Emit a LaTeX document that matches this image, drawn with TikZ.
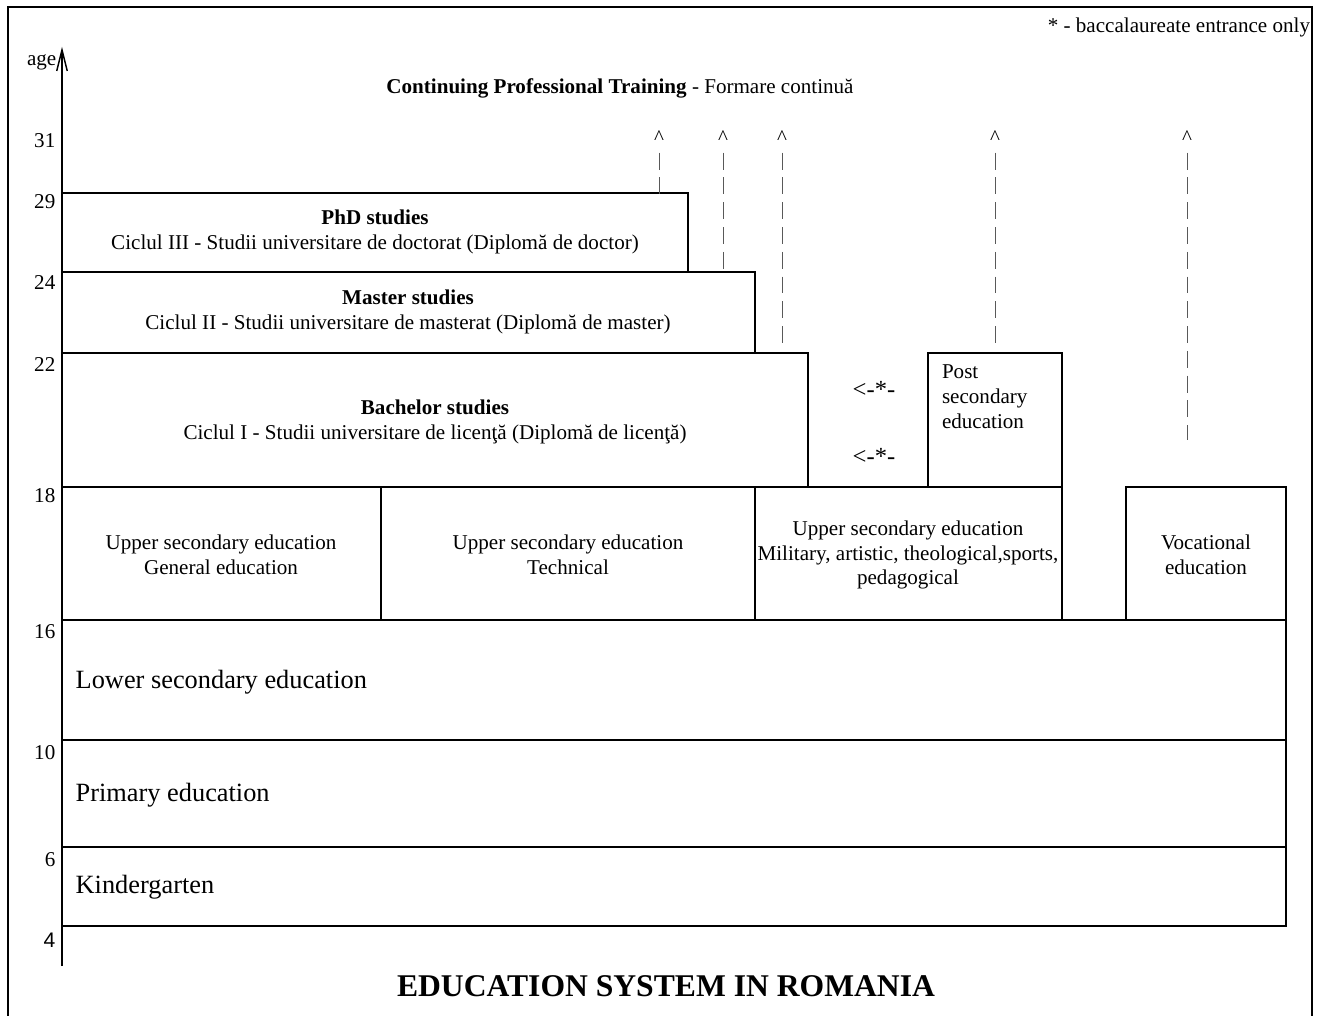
\documentclass[tikz,border=0pt]{standalone}
\usepackage{fontspec}
\setmainfont{Liberation Serif}
\newfontfamily\arialfont{Liberation Sans}
\usetikzlibrary{arrows.meta}
\tikzset{
  boxtext/.style = {font=\fontsize{12}{14.2}\selectfont, align=center,
                    inner sep=0pt, outer sep=0pt},
  bigtext/.style = {font=\fontsize{15}{18}\selectfont, anchor=west,
                    inner sep=0pt},
  agetext/.style = {font=\fontsize{12}{14}\selectfont, anchor=east,
                    inner sep=0pt},
  caret/.style   = {font=\fontsize{12}{14}\selectfont, anchor=base,
                    inner sep=0pt},
  dashline/.style = {black!65, line width=0.5pt,
                     dash pattern=on 9.6pt off 4.5pt, shorten <=4pt}
}

\begin{document}
\begin{tikzpicture}[x=0.02cm, y=-0.02cm, line width=0.8pt]
	\def \xa{62}   % age axis
	\def \xr{1286} % right edge of the school boxes
	\useasboundingbox (0,0) rectangle (1324,1016);

	% Frame
	\draw (8,1016) -- (8,7) -- (1312,7) -- (1312,1016);

	% Age axis
	\draw[-{Straight Barb[length=12pt,width=6pt]}] (\xa,966) -- (\xa,47);
	\node[agetext] (agename) at (57,62) {age};
	\foreach \age/\y in {31/141, 29/202, 24/283, 22/365, 18/496, 16/632, 10/753, 6/860}
		\node[agetext] (age\age) at (56,\y) {\age};
	\node[agetext, font=\arialfont\fontsize{12}{14}\selectfont] (age4) at (56,940) {4};

	% Notes
	\node[boxtext, anchor=east] (note) at (1310,27) {* - baccalaureate entrance only};
	\node[boxtext] (cpt) at (620,88) {\textbf{Continuing Professional Training} - Formare continuă};

	% University
	\draw (\xa,193) rectangle (688,272);
	\draw (\xa,272) rectangle (755,353);
	\draw (\xa,353) rectangle (808,487);
	\node[boxtext] (phd) at (375,232) {\textbf{PhD studies}\\Ciclul III - Studii universitare de doctorat (Diplomă de doctor)};
	\node[boxtext] (master) at (408,312) {\textbf{Master studies}\\Ciclul II - Studii universitare de masterat (Diplomă de master)};
	\node[boxtext] (bachelor) at (435,422) {\textbf{Bachelor studies}\\Ciclul I - Studii universitare de licenţă (Diplomă de licenţă)};

	% Post secondary
	\draw (928,353) rectangle (1062,487);
	\node[boxtext, anchor=west, align=left] (postsec) at (942,397) {Post\\secondary\\education};
	\node[boxtext, font=\fontsize{14}{16}\selectfont] (bac1) at (874,389) {<-*-};
	\node[boxtext, font=\fontsize{14}{16}\selectfont] (bac2) at (874,456) {<-*-};

	% Upper secondary
	\draw (\xa,487) rectangle (381,620);
	\draw (381,487) rectangle (755,620);
	\draw (755,487) rectangle (1062,620);
	\draw (1126,487) rectangle (\xr,620);
	\node[boxtext] (general) at (221,555) {Upper secondary education\\General education};
	\node[boxtext] (technical) at (568,555) {Upper secondary education\\Technical};
	\node[boxtext] (military) at (908,555) {Upper secondary education\\Military, artistic, theological,sports,\\pedagogical};
	\node[boxtext] (vocational) at (1206,555) {Vocational\\education};

	% Compulsory school
	\draw (\xa,620) rectangle (\xr,740);
	\draw (\xa,740) rectangle (\xr,847);
	\draw (\xa,847) rectangle (\xr,926);
	\node[bigtext] (lower) at (75,682) {Lower secondary education};
	\node[bigtext] (primary) at (75,795) {Primary education};
	\node[bigtext] (kinder) at (75,887) {Kindergarten};

	% Ways out to continuing training
	\coordinate (phdtop) at (659,196);
	\coordinate (mastertop) at (723,272);
	\coordinate (bachtop) at (782,345);
	\coordinate (posttop) at (995,345);
	\coordinate (vocend) at (1187,440);
	\foreach \n/\x/\e in {1/659/phdtop, 2/723/mastertop, 3/782/bachtop, 4/995/posttop, 5/1187/vocend} {
		\node[caret] (up\n) at (\x,145) {\textasciicircum};
		\draw[dashline] (up\n.south) -- (\e);
	}

	% Title
	\node[font=\fontsize{18}{21}\selectfont\bfseries, inner sep=0pt] (title) at (666,986) {EDUCATION SYSTEM IN ROMANIA};
\end{tikzpicture}
\end{document}
